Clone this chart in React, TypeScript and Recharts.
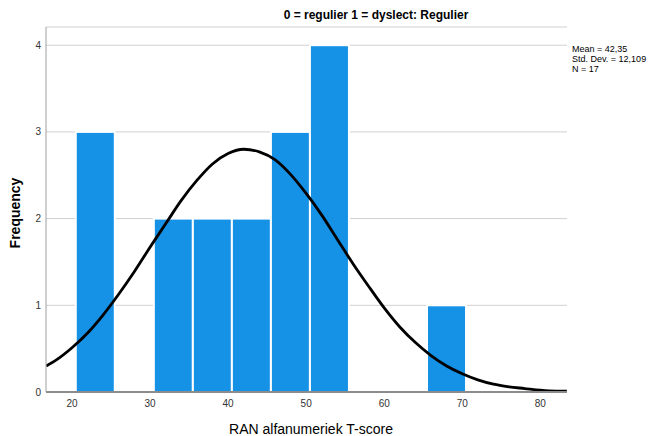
import { ComposedChart, Bar, Line, XAxis, YAxis, CartesianGrid } from 'recharts'

// bin centres (width 5) and counts
const binCenters = [23, 28, 33, 38, 43, 48, 53, 58, 63, 68]
const binCounts = [3, 0, 2, 2, 2, 3, 4, 0, 0, 1]

// normal curve
const curveX = [16.7, 18, 20, 22, 24, 26, 28, 30, 32, 34, 36, 38, 40, 42, 44, 46, 48, 50, 52, 54, 56, 58, 60, 62, 64, 66, 68, 70, 72, 74, 76, 78, 80, 82, 83.4]
const curveY = [0.3, 0.37, 0.51, 0.68, 0.89, 1.13, 1.39, 1.67, 1.94, 2.21, 2.44, 2.63, 2.75, 2.8, 2.77, 2.68, 2.51, 2.29, 2.04, 1.76, 1.48, 1.22, 0.97, 0.75, 0.57, 0.42, 0.3, 0.21, 0.14, 0.09, 0.06, 0.04, 0.02, 0.01, 0.01]

const xTicks = [20, 30, 40, 50, 60, 70, 80]
const yTicks = [0, 1, 2, 3, 4]
const statLines = ['Mean = 42,35', 'Std. Dev. = 12,109', 'N = 17']

const FONT = '"Liberation Sans", Arial, sans-serif'
const BAR_PX = 39 // one bin (5 units) wide

// histogram bar: full bin width, centred on the bin centre
const HistBar = (props: any) => {
  const { x, y, width, height } = props
  if (!height || height <= 0) return null
  const cx = x + width / 2
  return (
    <rect
      x={cx - BAR_PX / 2}
      y={y}
      width={BAR_PX}
      height={height}
      fill="#1591e6"
      stroke="#ffffff"
      strokeWidth={2}
    />
  )
}

export default function App() {
  const bins = binCenters.map((x, i) => ({ x, count: binCounts[i] > 0 ? binCounts[i] : null }))
  const curve = curveX.map((x, i) => ({ x, curve: curveY[i] }))

  return (
    <div style={{ position: 'absolute', left: 0, top: 0, width: 656, height: 436, background: '#fff', fontFamily: FONT }}>
      <ComposedChart
        width={656}
        height={436}
        data={bins}
        margin={{ top: 27, right: 89, left: 16, bottom: 14 }}
      >
        <CartesianGrid vertical={false} stroke="#d0d0d0" />
        <XAxis
          dataKey="x"
          type="number"
          domain={[16.67, 83.42]}
          ticks={xTicks}
          allowDataOverflow
          height={30}
          tickLine={false}
          tickSize={5}
          tickMargin={2.5}
          stroke="#8c8c8c"
          strokeWidth={2}
          tick={{ fontSize: 10, fill: '#333', fontFamily: FONT }}
        />
        <YAxis
          domain={[0, 4.21]}
          ticks={yTicks}
          allowDataOverflow
          width={30}
          tickLine={false}
          tickSize={3}
          tickMargin={2}
          stroke="#a0a0a0"
          tick={{ fontSize: 10, fill: '#333', fontFamily: FONT }}
        />
        <Bar
          dataKey="count"
          shape={HistBar}
          isAnimationActive={false}
        />
        <Line
          data={curve}
          dataKey="curve"
          type="monotone"
          stroke="#000"
          strokeWidth={2.8}
          dot={false}
          isAnimationActive={false}
        />
      </ComposedChart>
      <div style={{ position: 'absolute', left: 0, width: 752, top: 8, textAlign: 'center', fontSize: 12, fontWeight: 'bold', color: '#000' }}>
        0 = regulier 1 = dyslect: Regulier
      </div>
      <div style={{ position: 'absolute', left: 572, top: 44, fontSize: 9, lineHeight: '10px', color: '#000' }}>
        {statLines.map((s) => (
          <div key={s}>{s}</div>
        ))}
      </div>
      <div style={{ position: 'absolute', left: 0, width: 622, top: 421, textAlign: 'center', fontSize: 14, color: '#000' }}>
        RAN alfanumeriek T-score
      </div>
      <div
        style={{
          position: 'absolute',
          left: 15,
          top: 213,
          transform: 'translate(-50%, -50%) rotate(-90deg)',
          fontSize: 14,
          fontWeight: 'bold',
          color: '#000',
          whiteSpace: 'nowrap',
        }}
      >
        Frequency
      </div>
    </div>
  )
}
